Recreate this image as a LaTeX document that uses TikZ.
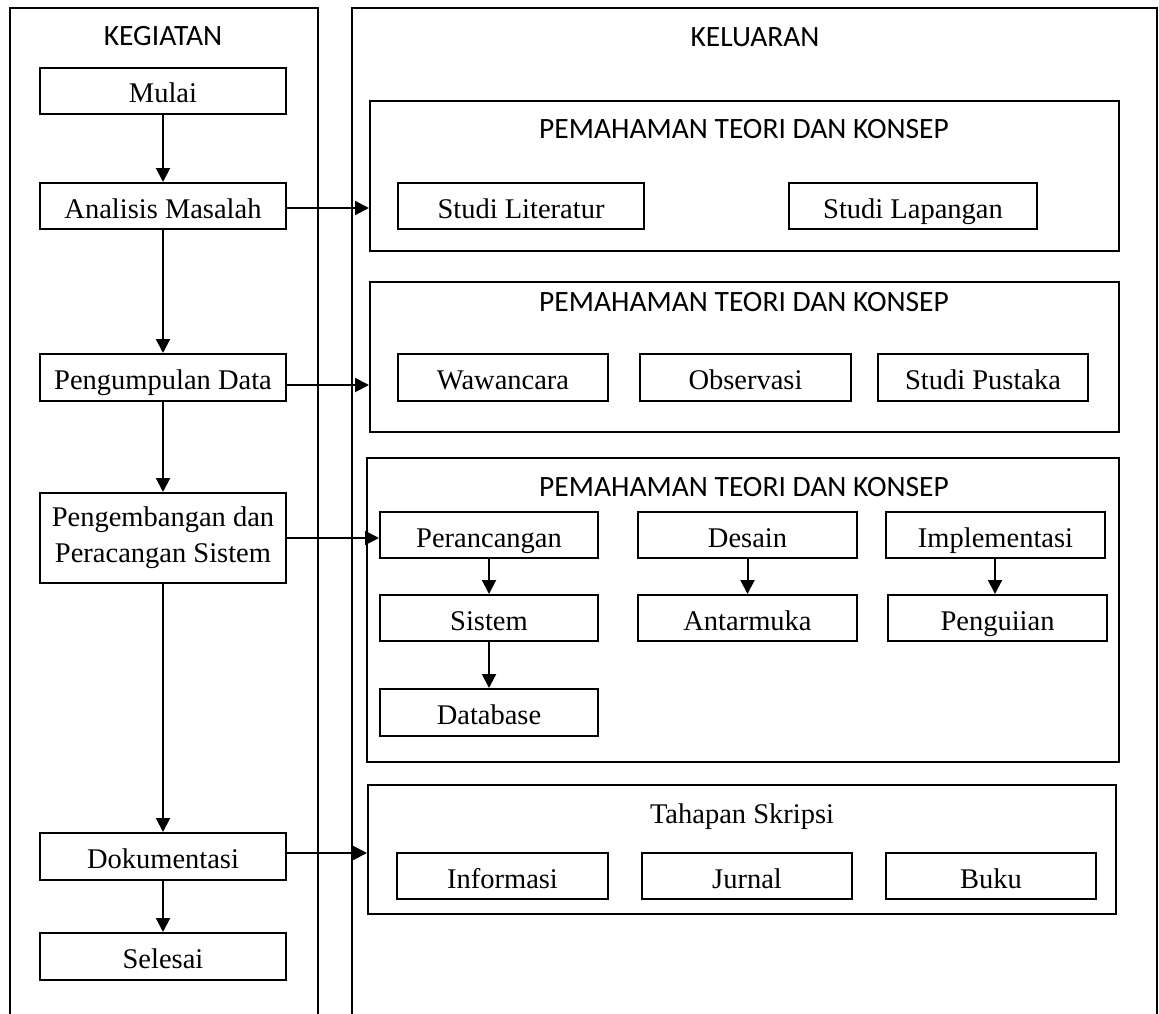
\documentclass[tikz,border=0pt]{standalone}
\usepackage{fontspec}
\newfontfamily\tnr{Liberation Serif}
\newfontfamily\calib{Carlito}
\usetikzlibrary{arrows.meta,calc}
\begin{document}
\begin{tikzpicture}[x=1pt,y=-1pt,
  frame/.style={line width=2pt},
  box/.style={draw,line width=2pt,inner sep=0pt,minimum height=46pt,
     text height=24pt,text depth=0pt,font=\tnr\fontsize{28.5}{34}\selectfont},
  bigbox/.style={draw,line width=2pt,inner sep=0pt},
  title/.style={anchor=base,inner sep=0pt,font=\calib\fontsize{29.5}{34}\selectfont},
  ttitle/.style={anchor=base,inner sep=0pt,font=\tnr\fontsize{28.5}{34}\selectfont},
  arr/.style={line width=2pt,-{Triangle[length=14pt,width=14pt]}}]
\useasboundingbox (0,0) rectangle (1159,1014);
% column frames
\draw[frame] (10,1014) -- (10,8) -- (318,8) -- (318,1014);
\draw[frame] (352,1014) -- (352,8) -- (1157,8) -- (1157,1014);
\node[title] (kg) at (163,46) {KEGIATAN};
\node[title] (kl) at (755,47) {KELUARAN};
% left boxes
\node[box,minimum width=246pt] (mulai) at (163,91) {Mulai};
\node[box,minimum width=246pt] (anal) at (163,206) {Analisis Masalah};
\node[box,minimum width=246pt,minimum height=47pt] (peng) at (163,377.5) {Pengumpulan Data};
\node[draw,line width=2pt,inner sep=0pt,minimum width=246pt,minimum height=90pt,align=center,
  font=\tnr\fontsize{28.5}{36}\selectfont] (pgb) at (163,538) {Pengembangan dan\\Peracangan Sistem};
\node[box,minimum width=246pt,minimum height=47pt] (dok) at (163,856.5) {Dokumentasi};
\node[box,minimum width=246pt,minimum height=47pt] (sel) at (163,956.5) {Selesai};
% containers
\node[bigbox,minimum width=749pt,minimum height=150pt] (c1) at (744.5,176) {};
\node[bigbox,minimum width=749pt,minimum height=150pt] (c2) at (744.5,357) {};
\node[bigbox,minimum width=752pt,minimum height=304pt] (c3) at (743,610) {};
\node[bigbox,minimum width=748pt,minimum height=129pt] (c4) at (742,849.5) {};
\node[title] (t1) at (744,139) {PEMAHAMAN TEORI DAN KONSEP};
\node[title] (t2) at (744,311) {PEMAHAMAN TEORI DAN KONSEP};
\node[title] (t3) at (744,496) {PEMAHAMAN TEORI DAN KONSEP};
\node[ttitle] (t4) at (742,823) {Tahapan Skripsi};
% container 1
\node[box,minimum width=246pt] (lit) at (521,206) {Studi Literatur};
\node[box,minimum width=248pt] (lap) at (913,206) {Studi Lapangan};
% container 2
\node[box,minimum width=210pt,minimum height=47pt] (waw) at (503,377.5) {Wawancara};
\node[box,minimum width=211pt,minimum height=47pt] (obs) at (745.5,377.5) {Observasi};
\node[box,minimum width=210pt,minimum height=47pt] (pus) at (983,377.5) {Studi Pustaka};
% container 3
\node[box,minimum width=218pt] (per) at (489,535) {Perancangan};
\node[box,minimum width=218pt] (sis) at (489,618) {Sistem};
\node[box,minimum width=218pt,minimum height=47pt] (db) at (489,712.5) {Database};
\node[box,minimum width=219pt] (des) at (747.5,535) {Desain};
\node[box,minimum width=219pt] (ant) at (747.5,618) {Antarmuka};
\node[box,minimum width=219pt] (imp) at (995.5,535) {Implementasi};
\node[box,minimum width=219pt] (uji) at (997.5,618) {Penguiian};
% container 4
\node[box,minimum width=211pt] (inf) at (502.5,876) {Informasi};
\node[box,minimum width=210pt] (jur) at (747,876) {Jurnal};
\node[box,minimum width=210pt] (buk) at (991,876) {Buku};
% vertical arrows left
\draw[arr] (mulai.south) -- (anal.north);
\draw[arr] (anal.south) -- (peng.north);
\draw[arr] (peng.south) -- (pgb.north);
\draw[arr] (pgb.south) -- (dok.north);
\draw[arr] (dok.south) -- (sel.north);
% horizontal arrows
\draw[arr] ([yshift=-2pt]anal.east) -- ([yshift=-2pt]anal.east -| c1.west);
\draw[arr] ([yshift=-7.5pt]peng.east) -- ([yshift=-7.5pt]peng.east -| c2.west);
\draw[arr] (pgb.east) -- (pgb.east -| per.west);
\draw[arr] ([yshift=3.5pt]dok.east) -- ([yshift=3.5pt]dok.east -| c4.west);
% inner arrows
\draw[arr] (per.south) -- (sis.north);
\draw[arr] (sis.south) -- (db.north);
\draw[arr] (des.south) -- (ant.north);
\draw[arr] ([xshift=-0.5pt]imp.south) -- ([xshift=-0.5pt]imp.south |- uji.north);
\end{tikzpicture}
\end{document}
